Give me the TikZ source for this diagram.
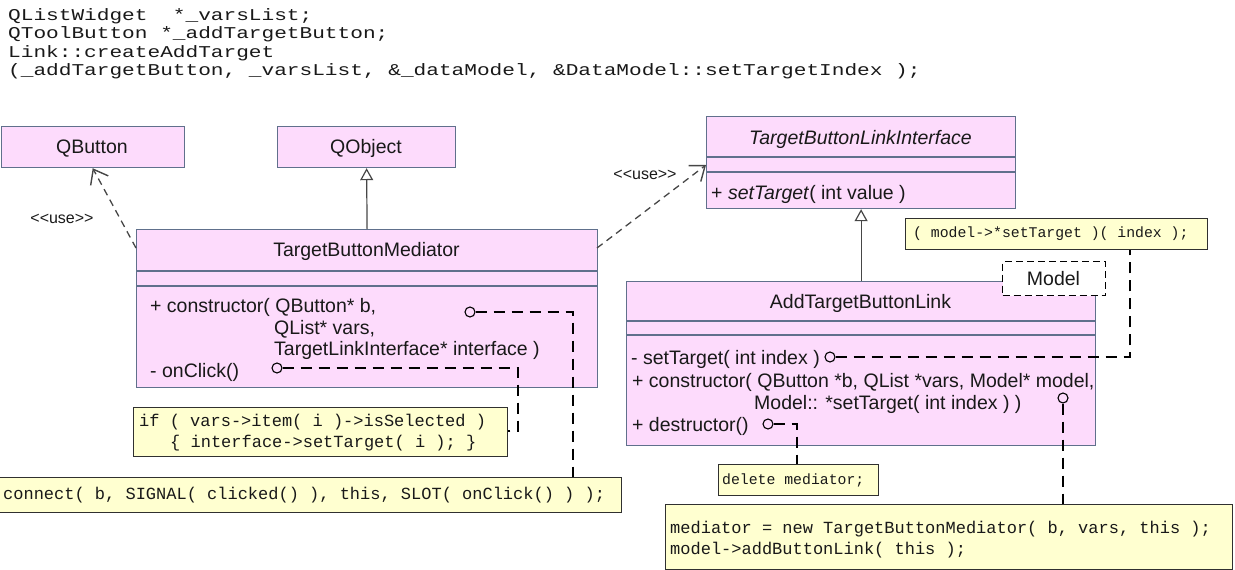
\documentclass[tikz,border=0pt]{standalone}
\usepackage{graphicx}
\usepackage{fontspec}
\usetikzlibrary{arrows.meta}
\newfontfamily\umlsans{Liberation Sans}
\newfontfamily\umlmono{Liberation Mono}
\definecolor{classfill}{RGB}{253,219,252}
\definecolor{classline}{RGB}{96,112,140}
\definecolor{notefill}{RGB}{255,255,208}
\definecolor{noteline}{RGB}{48,48,48}
\definecolor{inktext}{RGB}{25,25,25}
\definecolor{relink}{RGB}{70,70,70}
% wide, low monospace lines for the source snippet
\newcommand{\widecode}[1]{\scalebox{1.28}[1]{#1}}

\begin{document}
\begin{tikzpicture}[x=1pt,y=-1pt,
  classbox/.style={draw=classline, fill=classfill, line width=1.2pt, inner sep=0pt, anchor=north west},
  notebox/.style={draw=noteline, fill=notefill, line width=1.2pt, inner sep=0pt, anchor=north west},
  modelbox/.style={draw=black, fill=white, line width=1.2pt, dash pattern=on 7pt off 4pt, inner sep=0pt, anchor=north west},
  sep/.style={draw=classline, line width=1.2pt},
  boxtext/.style={font=\umlsans\fontsize{19.5}{22}\selectfont, text=inktext, inner sep=0pt, anchor=base west},
  boxtitle/.style={boxtext, anchor=base},
  stereo/.style={font=\umlsans\fontsize{16}{18}\selectfont, text=inktext, inner sep=0pt, anchor=base},
  codebig/.style={font=\umlmono\fontsize{16.5}{18}\selectfont, text=inktext, inner sep=0pt, anchor=base west},
  codemid/.style={font=\umlmono\fontsize{17}{20}\selectfont, text=inktext, inner sep=0pt, anchor=base west},
  codesmall/.style={font=\umlmono\fontsize{14.8}{17}\selectfont, text=inktext, inner sep=0pt, anchor=base west},
  usearrow/.style={draw=relink, line width=1.3pt, dash pattern=on 7pt off 5pt,
    -{Straight Barb[length=13pt,width=20pt,line width=1.4pt]}},
  inherit/.style={draw=relink, line width=1.2pt,
    -{Triangle[open, length=12pt, width=13pt, fill=white, line width=1.2pt]}},
  attach/.style={draw=black, line width=1.1pt, dash pattern=on 11pt off 7pt},
  pin/.style={circle, draw=black, fill=none, line width=1.1pt, minimum size=10pt, inner sep=0pt}
]
\useasboundingbox (0,0) rectangle (1235,570);

% ---- source snippet ----
\node[codebig] (src1) at (8,20.5) {\widecode{QListWidget\ \ *\_varsList;}};
\node[codebig] (src2) at (8,38.5) {\widecode{QToolButton *\_addTargetButton;}};
\node[codebig] (src3) at (8,57.5) {\widecode{Link::createAddTarget}};
\node[codebig] (src4) at (8,75.5) {\widecode{(\_addTargetButton, \_varsList, \&\_dataModel, \&DataModel::setTargetIndex );}};

% ---- classes ----
\node[classbox, minimum width=183pt, minimum height=41pt] (qbutton) at (0.6,126) {};
\node[boxtitle] (qbuttonname) at (92,153) {QButton};

\node[classbox, minimum width=178pt, minimum height=41pt] (qobject) at (277,126) {};
\node[boxtitle] (qobjectname) at (366,153) {QObject};

\node[classbox, minimum width=309pt, minimum height=92pt] (tbli) at (706,116) {};
\draw[sep] (706,157) -- (1015,157);
\draw[sep] (706,172) -- (1015,172);
\node[boxtitle] (tbliname) at (860.5,144) {\itshape TargetButtonLinkInterface};
\node[boxtext] (tbliop) at (711,199) {+ \textit{setTarget}( int value )};

\node[classbox, minimum width=461pt, minimum height=158pt] (tbm) at (136,229) {};
\draw[sep] (136,271) -- (597,271);
\draw[sep] (136,286) -- (597,286);
\node[boxtitle] (tbmname) at (366.5,256) {TargetButtonMediator};
\node[boxtext] (tbmop1) at (150,312) {+ constructor( QButton* b,};
\node[boxtext] (tbmop2) at (274,334) {QList* vars,};
\node[boxtext] (tbmop3) at (274,355) {TargetLinkInterface* interface )};
\node[boxtext] (tbmop4) at (150,377) {- onClick()};

\node[classbox, minimum width=469pt, minimum height=164pt] (atbl) at (626,281) {};
\draw[sep] (626,321) -- (1095,321);
\draw[sep] (626,335) -- (1095,335);
\node[boxtitle] (atblname) at (860.5,308) {AddTargetButtonLink};
\node[boxtext] (atblop1) at (631,364) {- setTarget( int index )};
\node[boxtext] (atblop2) at (632,387) {+ constructor( QButton *b, QList *vars, Model* model,};
\node[boxtext] (atblop3) at (754,409) {Model:: *setTarget( int index ) )};
\node[boxtext] (atblop4) at (632,431) {+ destructor()};

% template parameter
\node[modelbox, minimum width=103pt, minimum height=34pt] (model) at (1002,261) {};
\node[boxtitle] (modelname) at (1053.5,285) {Model};

% ---- relations ----
\coordinate (tbmleft) at (136,248);
\coordinate (tbmright) at (597,248);
\coordinate (tbliport) at (706,165);
\draw[usearrow] (tbmleft) -- (qbutton.south);
\node[stereo] (use1) at (62,223) {<<use>>};
\draw[usearrow] (tbmright) -- (tbliport);
\node[stereo] (use2) at (645,179) {<<use>>};
\draw[inherit] (tbm.north) -- (qobject.south);
\draw[inherit] (atbl.north) -- (tbli.south);

% ---- notes ----
\node[notebox, minimum width=302pt, minimum height=31pt] (nindex) at (905,218) {};
\node[codesmall] (nindextext) at (913,237.5) {( model->*setTarget )( index );};

\node[notebox, minimum width=374pt, minimum height=49pt] (nclick) at (133,407) {};
\node[codemid] (nclick1) at (139,426) {if ( vars->item( i )->isSelected )};
\node[codemid] (nclick2) at (170,447) {\{ interface->setTarget( i ); \}};

\node[notebox, minimum width=622pt, minimum height=35pt] (nconnect) at (-1,477) {};
\node[codemid] (nconnecttext) at (3,499) {connect( b, SIGNAL( clicked() ), this, SLOT( onClick() ) );};

\node[notebox, minimum width=160pt, minimum height=31pt] (ndelete) at (718,464) {};
\node[codesmall] (ndeletetext) at (722,484.5) {delete mediator;};

\node[notebox, minimum width=567pt, minimum height=65pt] (nnew) at (665,504) {};
\node[codemid] (nnew1) at (670,533) {mediator = new TargetButtonMediator( b, vars, this );};
\node[codemid] (nnew2) at (670,554) {model->addButtonLink( this );};

% ---- note anchors ----
\node[pin] (pctor) at (470,312) {};
\node[pin] (pclick) at (277,368) {};
\node[pin] (pset) at (830,357) {};
\node[pin] (pactor) at (1063,398) {};
\node[pin] (pdtor) at (768,424) {};

\coordinate (kctor) at (573,312);
\coordinate (kclick) at (518,368);
\coordinate (kclickin) at (518,431);
\coordinate (kset) at (1130,357);
\coordinate (kdtor) at (797,424);

\draw[attach] (pctor.east) -- (kctor) -- (kctor |- nconnect.north);
\draw[attach] (pclick.east) -- (kclick) -- (kclickin) -- (kclickin -| nclick.east);
\draw[attach] (pset.east) -- (kset) -- (kset |- nindex.south);
\draw[attach] (pactor.south) -- (pactor.south |- nnew.north);
\draw[attach] (pdtor.east) -- (kdtor) -- (kdtor |- ndelete.north);
\end{tikzpicture}
\end{document}
